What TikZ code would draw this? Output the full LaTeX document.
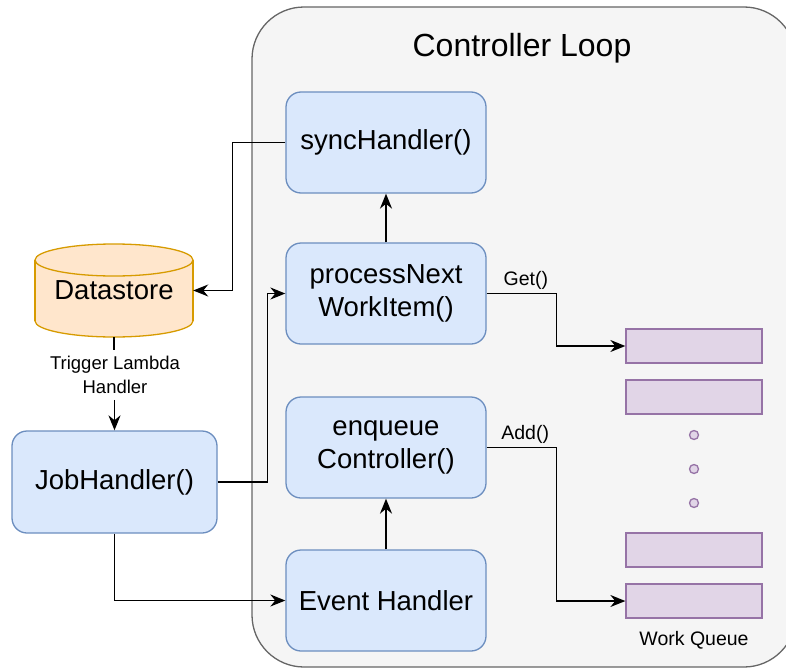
\documentclass[tikz,border=0pt]{standalone}
\usepackage{fontspec}
\setmainfont{Liberation Sans}
\usetikzlibrary{arrows.meta}

\definecolor{loopfill}{HTML}{F5F5F5}
\definecolor{loopline}{HTML}{666666}
\definecolor{funcfill}{HTML}{DAE8FC}
\definecolor{funcline}{HTML}{6C8EBF}
\definecolor{storefill}{HTML}{FFE6CC}
\definecolor{storeline}{HTML}{D79B00}
\definecolor{slotfill}{HTML}{E1D5E7}
\definecolor{slotline}{HTML}{9673A6}

\tikzset{
  func/.style={draw=funcline, fill=funcfill, line width=1.3pt, rounded corners=15pt,
    minimum width=200pt, minimum height=101pt, align=center,
    font=\fontsize{27.5}{33}\selectfont},
  slot/.style={draw=slotline, fill=slotfill, line width=1.3pt,
    minimum width=136pt, minimum height=34pt},
  qdot/.style={circle, draw=slotline, fill=slotfill, line width=1.3pt,
    inner sep=0pt, minimum size=9pt},
  flow/.style={-{Stealth[length=15pt,width=12pt]}, line width=1.5pt},
  tag/.style={font=\fontsize{19.5}{24}\selectfont, align=center},
}

\begin{document}
\begin{tikzpicture}[x=1pt,y=-1pt]
  \useasboundingbox (0,0) rectangle (786,669);

  % controller loop container
  \begin{scope}
    \clip (0,0) rectangle (786,669);
    \draw[fill=loopfill, draw=loopline, line width=1.3pt, rounded corners=52pt]
      (252,7) rectangle (796,667);
  \end{scope}
  \node[font=\fontsize{32}{38}\selectfont] (title) at (522,48) {Controller Loop};

  % datastore cylinder
  \draw[draw=storeline, fill=storefill, line width=1.3pt] (114,321) ellipse [x radius=79, y radius=16];
  \fill[storefill] (35,260) rectangle (193,321);
  \draw[storeline, line width=1.3pt] (35,260) -- (35,321) (193,260) -- (193,321);
  \draw[draw=storeline, fill=storefill, line width=1.3pt] (114,260) ellipse [x radius=79, y radius=16];
  \node[minimum width=158pt, minimum height=93pt, font=\fontsize{27.5}{33}\selectfont]
    (ds) at (114,290.5) {Datastore};

  \node[func] (sync) at (386,142.5) {syncHandler()};
  \node[func] (proc) at (386,293.5) {processNext\\WorkItem()};
  \node[func] (enq) at (386,447.5) {enqueue\\Controller()};
  \node[func] (evt) at (386,600.5) {Event Handler};
  \node[func, minimum width=205pt, minimum height=102pt] (job) at (114.5,482) {JobHandler()};

  % work queue
  \node[slot] (q1) at (694,346) {};
  \node[slot] (q2) at (694,397) {};
  \foreach \y [count=\i] in {435,469,503}
    \node[qdot] (d\i) at (694,\y) {};
  \node[slot] (q4) at (694,550) {};
  \node[slot] (q5) at (694,601) {};
  \node[tag] (wq) at (694,640) {Work Queue};

  \node[tag, font=\fontsize{18.5}{24}\selectfont, inner xsep=1pt, inner ysep=6pt]
    (trig) at (115,375) {Trigger Lambda\\Handler};

  \draw[flow] (proc.north) -- (sync.south);
  \draw[flow] (evt.north) -- (enq.south);
  \draw[flow] (sync.west) -- ++(-53,0) |- (ds.east);
  \draw[line width=1.5pt] (ds.south) -- (trig.north -| ds.south);
  \draw[flow] (trig.south -| job.north) -- (job.north);
  \draw[flow] (job.east) -- ++(50,0) |- (proc.west);
  \draw[flow] (job.south) |- (evt.west);
  \draw[flow] (proc.east) -- node[tag, above, pos=0.56] {Get()} ++(70,0) |- (q1.west);
  \draw[flow] (enq.east) -- node[tag, above, pos=0.55] {Add()} ++(70,0) |- (q5.west);
\end{tikzpicture}
\end{document}
